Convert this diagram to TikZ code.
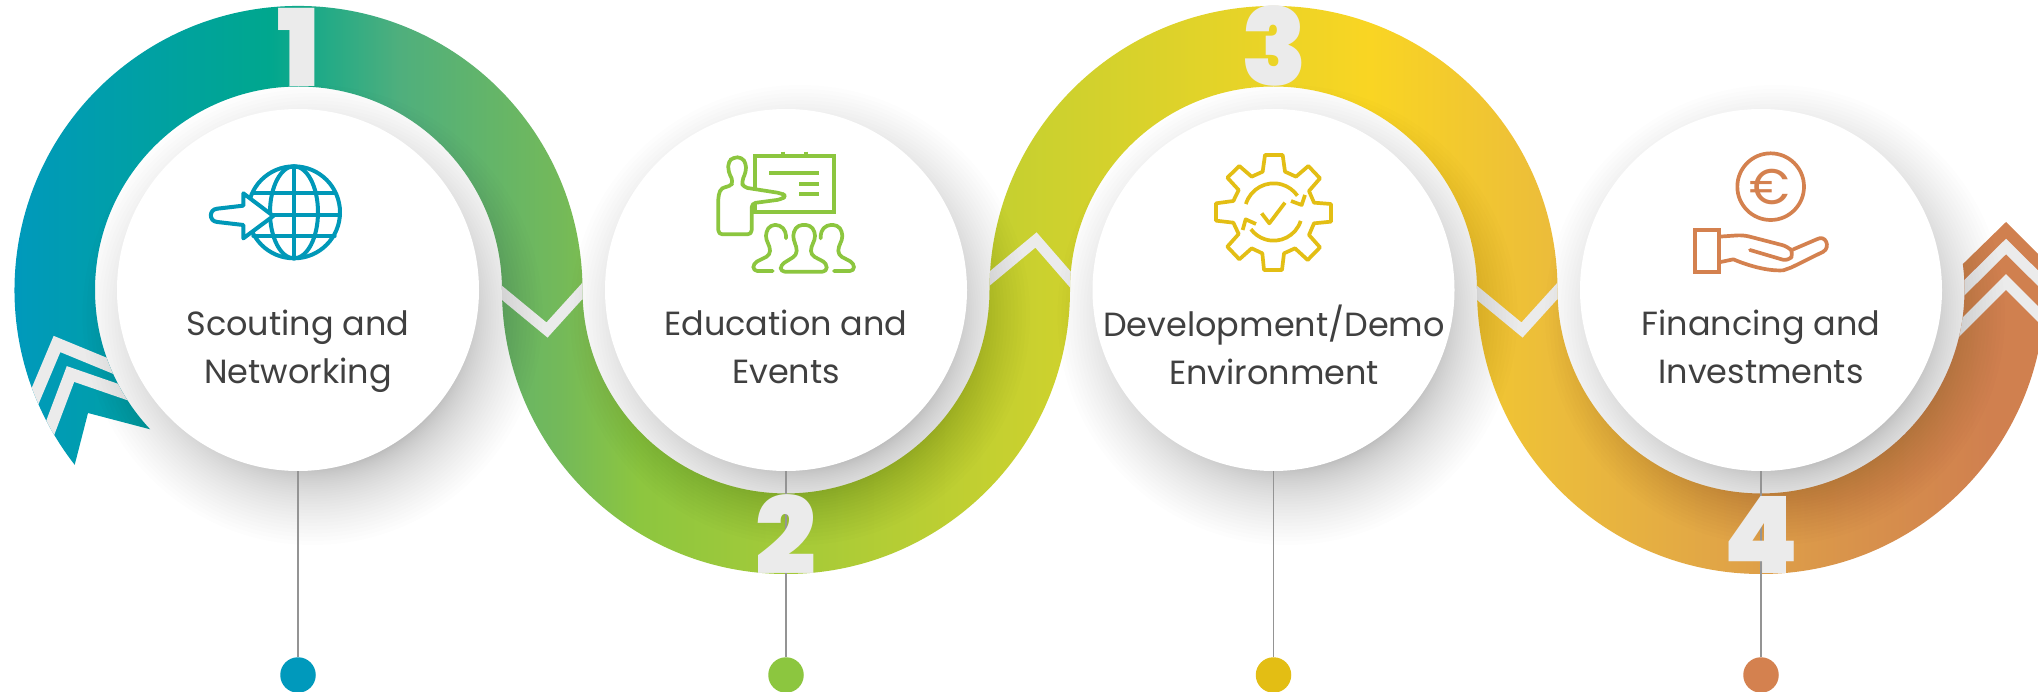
\documentclass[tikz,border=0pt]{standalone}
\usepackage{fontspec}
\setmainfont{Poppins}
\newfontfamily\numf{Poppins Black}
\definecolor{g0}{HTML}{0099BC}
\definecolor{g1}{HTML}{00A78E}
\definecolor{g2}{HTML}{4FAF7D}
\definecolor{g3}{HTML}{73B95A}
\definecolor{g4}{HTML}{8DC63F}
\definecolor{g5}{HTML}{C5D030}
\definecolor{g6}{HTML}{F9D523}
\definecolor{g7}{HTML}{EBBB3C}
\definecolor{g8}{HTML}{DFA148}
\definecolor{g9}{HTML}{D0804F}
\definecolor{chev}{HTML}{EBEBEB}
\definecolor{ictea}{HTML}{0098B8}
\definecolor{icgre}{HTML}{8CC63F}
\definecolor{icyel}{HTML}{E3BE14}
\definecolor{icora}{HTML}{D4814F}
\definecolor{txt}{HTML}{404040}
\pgfdeclarehorizontalshading{ringgrad}{100bp}{color(0bp)=(g0); color(25.3bp)=(g0); color(31.6bp)=(g1); color(34.8bp)=(g2); color(38.7bp)=(g3); color(40.7bp)=(g4); color(49.5bp)=(g5); color(58.6bp)=(g6); color(63.3bp)=(g7); color(67.9bp)=(g8); color(73.8bp)=(g9); color(100bp)=(g9)}
\def\ringpath{(74.7,464.8) arc[start angle=142,end angle=360,radius=284] arc[start angle=180,end angle=0,radius=203.5] arc[start angle=180,end angle=360,radius=284] arc[start angle=180,end angle=-7.3,radius=203.5] -- (2006,222) -- (2050,266) -- (2045,290) arc[start angle=0,end angle=180,radius=284] arc[start angle=0,end angle=-180,radius=203.5] arc[start angle=0,end angle=180,radius=284] arc[start angle=360,end angle=136.8,radius=203.5] -- (88,413) -- cycle}
\newcommand{\topstrut}{\rule{0pt}{30pt}}
\newcommand{\botstrut}{\rule[-10pt]{0pt}{10pt}}
\tikzset{
  chevline/.style={draw=chev,line width=11pt,miter limit=10},
  disc/.style={circle,fill=white,inner sep=0pt,minimum size=362pt},
  dotnode/.style={circle,inner sep=0pt,minimum size=35.5pt},
  lead/.style={draw=black!42,line width=1.1pt},
  digit/.style={inner sep=0pt,text=chev,font=\numf\fontsize{107}{107}\selectfont},
  label/.style={align=center,text=txt,inner sep=0pt,font=\fontsize{33.5}{48}\selectfont},
  icon/.style={line width=3.7pt,line join=round,line cap=round},
  zoomed/.style={x=0.33333pt,y=-0.33333pt}
}
\begin{document}
\begin{tikzpicture}[x=1pt,y=-1pt]
\useasboundingbox (0,0) rectangle (2038,692);
\fill[white] (0,0) rectangle (2038,692);
\begin{scope}
  \clip (0,0) rectangle (2038,692);
  \begin{scope}
    \clip \ringpath;
    \shade[shading=ringgrad] (0,0) rectangle (2038,692);
    \draw[chevline,line width=12.5pt] (25,420) -- (57,344) -- (125,372);
    \draw[chevline,line width=12.5pt] (40,455) -- (70.5,374) -- (140,398);
    \draw[chevline] (490,283) -- (547,330) -- (595,277);
    \draw[chevline] (977,289) -- (1036,240) -- (1083,294);
    \draw[chevline] (1465,283) -- (1522,330) -- (1570,277);
    \draw[chevline] (1950,302) -- (2006,246.5) -- (2060,300);
    \draw[chevline] (1950,338) -- (2006,282) -- (2060,336);
  \end{scope}
  % soft shadows
  \foreach \cx in {298.5,786,1273.5,1761}{
    \foreach \t in {0,...,40}{
      \fill[black,opacity=0.0068] (\cx+14,290+25) circle ({150+80*(\t/40)*(\t/40)});
    }
  }
\end{scope}
\node[disc] (c1) at (298,290) {};
\node[disc] (c2) at (786,290) {};
\node[disc] (c3) at (1273.5,290) {};
\node[disc] (c4) at (1761,290) {};
\node[dotnode,fill=g0] (d1) at (298,675) {};
\node[dotnode,fill=icgre] (d2) at (786,675) {};
\node[dotnode,fill=icyel] (d3) at (1273.5,675) {};
\node[dotnode,fill=icora] (d4) at (1761,675) {};
\draw[lead] (c1.south) -- (d1.north);
\draw[lead] (c2.south) -- (d2.north);
\draw[lead] (c3.south) -- (d3.north);
\draw[lead] (c4.south) -- (d4.north);
\node[digit] (n1) at (298.5,47) {1};
\node[digit] (n2) at (786,534.5) {2};
\node[digit] (n3) at (1274,46) {3};
\node[digit] (n4) at (1761,535) {4};
\node[label] (t1) at (298,349.5) {\topstrut Scouting and\\Networking\botstrut};
\node[label] (t2) at (786,349.5) {\topstrut Education and\\Events\botstrut};
\node[label] (t3) at (1274,349.5) {\topstrut Development/Demo\\Environment\botstrut};
\node[label] (t4) at (1761,349.5) {\topstrut Financing and\\Investments\botstrut};
% globe icon
\begin{scope}[shift={(190pt,-150pt)},zoomed,icon,draw=ictea,line width=4pt]
  \draw (312,187) circle (138);
  \draw (312,187) ellipse (72 and 138);
  \draw (312,49) -- (312,325);
  \draw (190,130) -- (434,130);
  \draw (174,195) -- (450,195);
  \draw (190,258) -- (434,258);
  \draw[fill=white,line join=round] (160,167) -- (160,130) -- (250,198) -- (160,265) -- (160,225) -- (82,216) .. controls (56,214) and (56,178) .. (82,176) -- cycle;
\end{scope}
% presenter icon
\begin{scope}[shift={(680pt,-100pt)},zoomed,icon,draw=icgre]
  \draw[line cap=butt] (308,155) -- (308,167) (378,155) -- (378,167);
  \draw[line join=miter] (225,167) rectangle (462,335);
  \draw[line cap=butt] (268,220) -- (418,220) (358,252) -- (418,252) (358,282) -- (418,282);
  \draw[fill=white,rounded corners=4pt] (215,403) -- (115,403) -- (115,285) -- (125,262) -- (150,260) -- (160,245) -- (145,215) -- (145,185) -- (160,172) -- (185,172) -- (198,190) -- (198,215) -- (185,245) -- (190,262) -- (305,280) -- (317,288) -- (305,298) -- (215,310) -- cycle;
  \draw[rounded corners=4pt] (302,515) -- (302,495) -- (350,465) -- (350,440) -- (340,420) -- (340,395) -- (355,375) -- (390,375) -- (405,395) -- (405,420) -- (393,440) -- (393,465) -- (440,490) -- (440,515) -- cycle;
  \draw[rounded corners=4pt] (278,513) -- (220,513) -- (220,490) -- (270,465) -- (270,440) -- (258,420) -- (258,395) -- (272,375) -- (300,375) -- (318,395) -- (318,415);
  \draw[rounded corners=4pt] (462,513) -- (522,513) -- (522,490) -- (475,465) -- (475,440) -- (487,420) -- (487,395) -- (472,375) -- (440,375) -- (422,395) -- (422,415);
\end{scope}
% gear icon
\begin{scope}[shift={(1180pt,-130pt)},zoomed,icon,draw=icyel,line cap=butt]
  \draw (255,75) -- (308,75) -- (315,125) -- (348,140) -- (385,108) -- (420,145) -- (387,183) -- (402,218) -- (453,222) -- (453,275) -- (402,280) -- (387,315) -- (420,352) -- (383,390) -- (345,355) -- (312,370) -- (306,420) -- (252,420) -- (247,370) -- (215,355) -- (178,388) -- (142,350) -- (176,312) -- (160,278) -- (108,272) -- (108,220) -- (160,213) -- (176,180) -- (142,143) -- (178,108) -- (215,140) -- (248,125) -- cycle;
  \draw (281,247) ++(196.6:87) arc[start angle=196.6,end angle=325,radius=87];
  \draw (281,247) ++(17.6:85) arc[start angle=17.6,end angle=143.5,radius=85];
  \draw (333,213) -- (365,225) -- (375,195);
  \draw (228,282) -- (197,268) -- (188,300);
  \draw (245,250) -- (268,280) -- (315,218);
\end{scope}
% hand with coin icon
\begin{scope}[shift={(1660pt,-130pt)},zoomed,icon,draw=icora]
  \draw (332,170) circle (100);
  \node[inner sep=0pt,text=icora,font=\fontsize{50}{50}\selectfont] (euro) at (328,172) {€};
  \draw[line join=miter] (105,300) rectangle (177,425);
  \draw[rounded corners=6pt] (177,320) -- (250,315) -- (385,350) -- (402,370) -- (385,394) -- (270,360);
  \draw (177,397) -- (220,388) .. controls (260,405) and (320,424) .. (370,421) -- (395,412) -- (490,365) .. controls (512,352) and (498,312) .. (470,328) -- (400,358);
\end{scope}
\end{tikzpicture}
\end{document}
